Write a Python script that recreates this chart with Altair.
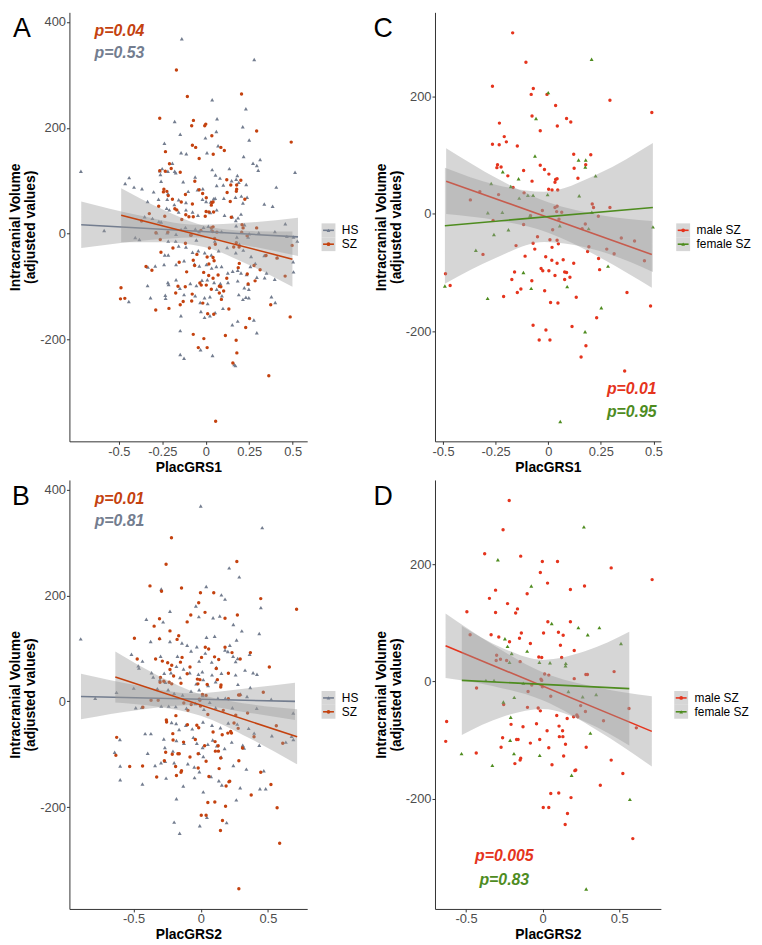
import altair as alt
import pandas as pd

FONT = "Liberation Sans"
H = 433
W_L = 240
W_R = 228

HS_COLOR = "#737D8F"
SZ_COLOR = "#C4420F"
MALE_COLOR = "#E5341D"
FEMALE_COLOR = "#4E8C1F"
BAND_COLOR = "#999999"
KEY_FILL = "#D6D6D6"
YTITLE = ["Intracranial Volume", "(adjusted values)"]

# ---------------- points ----------------
# SZ patients: (PlacGRS1, ICV) split by sex  (panel C; together = SZ in panel A)
C_MALE = [(-0.169,309),(-0.106,259),(-0.265,218),(-0.071,214),(-0.081,204),(-0.006,204),(0.293,194),(0.035,185),(0.492,173),(-0.077,167),(0.087,163),(0.107,157),(-0.232,155),(0.043,150),(-0.038,142),(-0.209,132),(-0.199,123),(-0.265,119),(-0.233,118),(-0.147,116),(0.121,102),(0.202,101),(-0.241,84),(-0.244,79),(-0.038,83),(-0.224,80),(0.178,84),(-0.018,76),(0.123,78),(-0.117,74),(0.003,68),(-0.192,65),(0.141,61),(0.035,59),(0.032,54),(0.042,60),(-0.077,56),(-0.167,45),(0.002,42),(0.018,41),(0.045,41),(-0.115,36),(-0.236,33),(-0.325,38),(-0.370,24),(0.042,13),(0.032,11),(0.293,11),(0.209,17),(0.215,11),(0.064,3),(-0.028,6),(0.040,4),(0.238,-4),(-0.084,-3),(-0.262,-11),(0.051,-9),(-0.117,-18),(0.176,-17),(0.161,-25),(0.021,-27),(-0.051,-39),(0.347,-41),(0.008,-44),(0.042,-45),(0.410,-46),(-0.072,-50),(0.048,-51),(-0.153,-54),(0.193,-56),(-0.064,-60),(0.018,-57),(0.278,-60),(0.187,-64),(-0.310,-69),(0.313,-68),(-0.110,-72),(-0.012,-73),(0.071,-78),(0.017,-79),(0.239,-76),(0.042,-84),(0.457,-80),(0.121,-84),(-0.034,-93),(-0.026,-97),(0.003,-97),(0.244,-95),(-0.160,-99),(0.078,-99),(0.087,-100),(0.032,-105),(0.103,-108),(-0.488,-102),(-0.173,-112),(-0.078,-114),(0.078,-112),(-0.466,-122),(-0.130,-128),(-0.017,-131),(-0.147,-134),(0.374,-134),(-0.212,-141),(0.133,-142),(0.011,-151),(0.046,-152),(0.486,-157),(0.230,-177),(-0.072,-190),(0.113,-192),(-0.011,-198),(-0.043,-215),(0.008,-215),(0.179,-225),(0.156,-244),(0.363,-268)]
C_FEMALE = [(0.206,264),(0.0,207),(-0.058,163),(-0.063,99),(0.144,92),(0.178,92),(0.176,80),(0.225,65),(-0.216,72),(-0.271,52),(-0.141,60),(-0.178,47),(-0.097,32),(-0.072,32),(-0.003,33),(0.147,31),(-0.138,27),(-0.287,2),(-0.218,3),(-0.087,-3),(0.207,3),(0.055,-20),(0.192,-25),(-0.189,-27),(-0.258,-35),(-0.344,-62),(0.284,-89),(0.497,-22),(-0.118,-100),(-0.491,-123),(-0.081,-127),(0.090,-124),(-0.288,-144),(0.252,-160),(0.175,-201),(0.057,-354)]
# SZ patients: (PlacGRS2, ICV) split by sex  (panel D; together = SZ in panel B)
D_MALE = [(-0.218,309),(-0.258,259),(-0.378,218),(-0.143,214),(-0.002,205),(0.097,205),(-0.015,186),(0.447,194),(0.714,174),(0.273,163),(0.032,168),(0.181,157),(-0.307,156),(-0.101,150),(-0.347,142),(-0.229,133),(-0.164,124),(-0.176,117),(-0.307,118),(-0.494,119),(0.034,102),(0.181,102),(-0.139,83),(0.006,83),(0.103,84),(-0.336,80),(-0.473,80),(0.134,79),(-0.286,76),(-0.151,74),(-0.216,68),(-0.080,65),(0.116,62),(0.206,53),(-0.025,42),(-0.006,41),(-0.300,45),(0.124,41),(-0.303,36),(-0.275,38),(-0.235,36),(-0.147,34),(0.466,17),(0.013,13),(0.040,11),(0.282,12),(0.292,12),(0.206,5),(-0.011,4),(-0.006,2),(-0.071,-6),(-0.431,-11),(-0.002,-9),(-0.095,-17),(0.053,-25),(-0.254,-39),(-0.099,-44),(-0.029,-45),(-0.015,-50),(0.248,-41),(0.563,-46),(0.279,-51),(0.223,-57),(0.229,-60),(0.202,-60),(0.092,-58),(0.160,-63),(0.397,-67),(-0.626,-68),(-0.206,-73),(-0.040,-72),(-0.128,-77),(0.107,-76),(0.611,-79),(0.130,-84),(0.029,-84),(0.109,-94),(0.132,-94),(-0.261,-96),(-0.160,-99),(-0.170,-99),(-0.019,-99),(-0.632,-102),(-0.080,-105),(0.149,-107),(-0.271,-112),(0.284,-112),(0.040,-113),(-0.433,-122),(0.137,-127),(-0.143,-131),(-0.147,-134),(0.447,-134),(-0.181,-140),(0.061,-142),(0.216,-151),(0.210,-152),(0.523,-157),(0.376,-177),(0.105,-190),(0.053,-191),(0.185,-198),(0.004,-215),(0.040,-215),(0.162,-225),(0.147,-244),(0.588,-268)]
D_FEMALE = [(0.269,264),(-0.292,208),(-0.074,163),(0.059,99),(0.233,92),(0.370,92),(0.294,80),(0.511,65),(-0.246,73),(-0.229,60),(-0.101,52),(-0.202,48),(-0.021,33),(0.048,32),(0.151,31),(0.149,27),(-0.216,33),(-0.370,2),(-0.317,2),(-0.126,-3),(0.168,-17),(0.261,-26),(0.349,-22),(-0.185,-27),(-0.256,-35),(-0.208,-61),(0.311,-88),(-0.212,-100),(-0.529,-123),(-0.019,-126),(-0.187,-123),(-0.328,-143),(0.189,-160),(0.569,-201),(0.284,-354)]
# healthy subjects (HS)
A_HS = [(-0.138,368),(0.279,329),(0.037,253),(0.231,236),(0.065,217),(-0.179,212),(0.213,202),(-0.147,188),(-0.002,181),(0.061,193),(0.250,177),(-0.238,171),(-0.112,151),(-0.142,153),(0.007,153),(0.071,166),(0.218,146),(0.313,140),(0.272,133),(0.294,129),(-0.719,118),(0.037,121),(0.136,123),(0.182,110),(0.514,116),(-0.192,133),(-0.251,123),(-0.218,118),(-0.179,118),(-0.173,115),(-0.264,119),(0.302,120),(-0.261,112),(0.056,111),(-0.061,107),(-0.441,106),(-0.464,95),(-0.413,88),(-0.367,85),(-0.257,99),(-0.130,98),(0.082,105),(0.101,92),(0.149,100),(0.175,103),(0.190,97),(0.233,93),(0.406,88),(-0.017,85),(0.063,91),(-0.300,79),(-0.272,65),(-0.218,76),(-0.101,80),(-0.047,83),(0.045,66),(0.054,67),(0.028,60),(0.171,69),(0.205,71),(0.238,69),(0.214,58),(0.337,56),(0.385,52),(-0.335,61),(-0.222,65),(-0.181,55),(-0.156,64),(-0.114,59),(0.002,61),(-0.019,65),(-0.225,48),(0.104,67),(-0.352,32),(-0.307,29),(-0.270,23),(-0.210,45),(-0.156,41),(-0.114,45),(-0.076,41),(-0.045,35),(0.026,40),(0.063,45),(0.108,35),(0.153,32),(0.186,30),(0.203,37),(0.173,25),(0.458,19),(-0.257,22),(-0.585,6),(-0.406,-7),(-0.382,-11),(-0.283,2),(-0.222,2),(-0.171,-1),(-0.142,8),(-0.117,12),(-0.060,9),(-0.039,4),(-0.013,12),(0.015,14),(0.034,8),(0.091,4),(0.175,15),(0.223,17),(0.250,0),(0.305,2),(0.398,4),(0.527,-14),(0.505,-6),(0.467,-5),(0.244,-6),(0.179,-6),(0.052,-14),(-0.054,-12),(-0.216,-14),(-0.173,-14),(-0.236,-40),(-0.216,-40),(-0.156,-23),(-0.114,-25),(-0.076,-35),(-0.043,-32),(-0.006,-36),(0.032,-40),(0.074,-32),(0.123,-26),(0.173,-36),(0.194,-20),(0.216,-31),(0.261,-43),(0.285,-56),(0.337,-41),(0.412,-45),(0.503,-53),(-0.291,-61),(-0.240,-58),(-0.171,-58),(-0.125,-51),(-0.065,-57),(-0.037,-61),(0.004,-58),(0.034,-65),(0.061,-62),(0.091,-62),(0.127,-74),(0.155,-71),(0.184,-69),(0.203,-74),(0.235,-77),(0.257,-62),(-0.333,-63),(0.339,-83),(0.350,-74),(0.505,-72),(-0.335,-98),(-0.318,-121),(-0.218,-92),(-0.214,-96),(-0.171,-87),(-0.149,-103),(-0.089,-94),(-0.054,-98),(-0.022,-88),(0.009,-87),(0.048,-92),(0.063,-105),(0.084,-94),(0.128,-92),(0.184,-89),(0.222,-102),(0.244,-95),(0.248,-105),(0.294,-82),(0.397,-86),(0.378,-119),(0.400,-130),(0.231,-120),(0.214,-124),(0.248,-121),(-0.233,-116),(-0.231,-122),(-0.125,-115),(-0.061,-117),(-0.032,-130),(-0.007,-121),(0.011,-132),(0.024,-119),(0.093,-117),(0.190,-115),(-0.443,-128),(-0.143,-155),(-0.028,-147),(-0.007,-158),(0.024,-155),(0.054,-149),(0.099,-141),(0.153,-172),(0.184,-165),(0.277,-163),(0.294,-187),(-0.147,-183),(-0.030,-219),(0.039,-230),(-0.147,-228),(-0.125,-235),(0.171,-249),(0.164,-247)]
B_HS = [(0.0,369),(0.458,328),(0.212,252),(0.287,235),(0.041,217),(-0.294,212),(0.154,201),(-0.036,180),(0.181,193),(0.448,177),(-0.229,170),(-0.405,155),(-0.280,150),(-0.014,160),(0.092,158),(0.142,161),(0.243,145),(0.306,133),(0.436,128),(-0.894,118),(-0.373,113),(-0.306,119),(-0.229,113),(-0.140,110),(-0.101,106),(0.043,121),(0.104,123),(0.217,106),(0.267,116),(-0.516,89),(-0.434,76),(-0.465,67),(-0.460,63),(-0.299,85),(-0.173,85),(-0.072,95),(-0.029,103),(-0.012,76),(0.034,91),(0.082,74),(0.116,64),(0.181,97),(0.202,94),(0.241,85),(0.260,75),(0.275,81),(0.364,89),(-0.366,54),(-0.272,53),(-0.222,54),(-0.181,66),(-0.128,61),(-0.082,54),(-0.017,51),(0.012,56),(0.084,50),(0.154,53),(0.260,50),(0.330,59),(0.390,54),(0.419,51),(-0.354,46),(-0.263,36),(-0.304,41),(-0.154,45),(-0.034,33),(0.019,41),(0.055,30),(0.111,37),(0.277,32),(0.369,26),(-0.627,17),(-0.499,25),(-0.323,24),(-0.243,22),(-0.198,15),(-0.135,12),(-0.072,19),(-0.012,22),(0.014,11),(0.128,6),(0.183,6),(0.296,14),(0.345,9),(0.525,4),(-0.786,6),(-0.484,-12),(-0.439,-11),(-0.294,-9),(-0.239,-9),(-0.186,-10),(-0.106,-13),(-0.039,-4),(0.024,-15),(0.067,-2),(0.111,-12),(0.236,-12),(0.417,-13),(0.689,-22),(-0.602,-72),(-0.414,-61),(-0.371,-61),(-0.217,-40),(-0.183,-42),(-0.161,-53),(-0.111,-45),(-0.063,-52),(0.017,-39),(0.084,-45),(0.147,-50),(0.205,-41),(0.272,-43),(0.357,-51),(0.398,-60),(0.530,-65),(0.634,-77),(0.677,-66),(0.690,-72),(-0.641,-96),(-0.600,-122),(-0.395,-98),(-0.275,-71),(-0.267,-87),(-0.207,-94),(-0.181,-74),(-0.125,-79),(-0.055,-68),(-0.029,-79),(0.014,-87),(0.053,-81),(0.089,-73),(0.120,-84),(0.178,-89),(0.231,-77),(0.313,-83),(0.323,-88),(0.436,-83),(0.470,-131),(0.340,-128),(0.243,-121),(0.152,-105),(0.019,-104),(-0.012,-98),(-0.048,-124),(-0.096,-118),(-0.198,-116),(-0.296,-116),(-0.340,-121),(-0.265,-113),(-0.600,-148),(-0.434,-156),(-0.258,-145),(-0.130,-160),(-0.046,-144),(-0.010,-133),(0.077,-142),(0.135,-150),(0.157,-158),(0.294,-163),(0.441,-165),(0.484,-165),(-0.181,-184),(0.019,-171),(0.265,-186),(-0.198,-228),(-0.157,-249),(-0.007,-235),(0.046,-219),(0.193,-229)]

# ---------------- fitted lines and 95% bands ----------------
A_HS_LINE_X = [-0.717, 0.531]; A_HS_LINE_Y = [17, -6]
A_HS_BAND_X = [-0.717, -0.4, -0.05, 0.25, 0.531]
A_HS_BAND_LO = [-27, -14, -7, -23, -42]
A_HS_BAND_HI = [61, 36, 17, 21, 30]

A_SZ_LINE_X = [-0.487, 0.499]; A_SZ_LINE_Y = [35, -48]
A_SZ_BAND_X = [-0.487, -0.25, -0.01, 0.25, 0.499]
A_SZ_BAND_LO = [-16, -16, -25, -59, -100]
A_SZ_BAND_HI = [86, 46, 15, 5, 4]

B_HS_LINE_X = [-0.892, 0.702]; B_HS_LINE_Y = [9, 0]
B_HS_BAND_X = [-0.892, -0.45, -0.06, 0.32, 0.702]
B_HS_BAND_LO = [-34, -16, -7, -20, -35]
B_HS_BAND_HI = [52, 29, 15, 24, 35]

B_SZ_LINE_X = [-0.636, 0.718]; B_SZ_LINE_Y = [46, -67]
B_SZ_BAND_X = [-0.636, -0.32, 0.0, 0.36, 0.718]
B_SZ_BAND_LO = [-2, -10, -27, -69, -119]
B_SZ_BAND_HI = [94, 49, 13, -5, -15]

C_M_LINE_X = [-0.485, 0.492]; C_M_LINE_Y = [56, -69]
C_M_BAND_X = [-0.485, -0.24, 0.0, 0.25, 0.492]
C_M_BAND_LO = [0, -11, -32, -75, -126]
C_M_BAND_HI = [112, 60, 20, -2, -12]

C_F_LINE_X = [-0.491, 0.497]; C_F_LINE_Y = [-20, 11]
C_F_BAND_X = [-0.491, -0.25, -0.02, 0.24, 0.497]
C_F_BAND_LO = [-119, -75, -48, -63, -99]
C_F_BAND_HI = [79, 50, 38, 69, 121]

D_M_LINE_X = [-0.633, 0.712]; D_M_LINE_Y = [61, -85]
D_M_BAND_X = [-0.633, -0.32, 0.0, 0.36, 0.712]
D_M_BAND_LO = [6, -8, -32, -84, -145]
D_M_BAND_HI = [116, 62, 16, -10, -25]

D_F_LINE_X = [-0.527, 0.565]; D_F_LINE_Y = [2, -12]
D_F_BAND_X = [-0.527, -0.26, 0.0, 0.28, 0.565]
D_F_BAND_LO = [-91, -60, -47, -69, -109]
D_F_BAND_HI = [95, 57, 37, 52, 85]

# ---------------- annotations ----------------
A_P_LABELS = ["p=0.04", "p=0.53"]; A_P_X = [-0.64, -0.64]; A_P_Y = [383, 342]
B_P_LABELS = ["p=0.01", "p=0.81"]; B_P_X = [-0.79, -0.79]; B_P_Y = [382, 341]
C_P_LABELS = ["p=0.01", "p=0.95"]; C_P_X = [0.515, 0.515]; C_P_Y = [-298, -338]
D_P_LABELS = ["p=0.005", "p=0.83"]; D_P_X = [-0.25, -0.25]; D_P_Y = [-298, -338]

TICKS_X1 = [-0.5, -0.25, 0, 0.25, 0.5]
TICKS_X2 = [-0.5, 0, 0.5]
TICKS_Y_AB = [-200, 0, 200, 400]
TICKS_Y_CD = [-200, 0, 200]


def pts(pairs):
    return pd.DataFrame(pairs, columns=["x", "y"])


def line_df(xs, ys):
    return pd.DataFrame({"x": xs, "y": ys})


def band_df(xs, lo, hi):
    return pd.DataFrame({"x": xs, "lo": lo, "hi": hi})


def panel(groups, plabels, px, py, pcolors, palign, letter, letter_x,
          xdom, ydom, xticks, yticks, xtitle, width):
    xs = alt.Scale(domain=xdom, nice=False, zero=False)
    ys = alt.Scale(domain=ydom, nice=False, zero=False)
    xax = alt.Axis(values=xticks, labelExpr="datum.value + ''", title=xtitle)
    yax = alt.Axis(values=yticks, labelExpr="datum.value + ''", title=YTITLE)

    def X(f="x"):
        return alt.X(f + ":Q", scale=xs, axis=xax)

    def Y(f="y"):
        return alt.Y(f + ":Q", scale=ys, axis=yax)

    layers = []
    for g in groups:
        layers.append(
            alt.Chart(g["points"]).mark_point(
                filled=True, shape=g["shape"], size=g["size"], color=g["color"], opacity=1
            ).encode(x=X(), y=Y())
        )
    for g in groups:
        layers.append(
            alt.Chart(g["band"]).mark_area(
                color=BAND_COLOR, opacity=0.4, interpolate="monotone"
            ).encode(x=X(), y=Y("lo"), y2=alt.Y2("hi:Q"))
        )
        layers.append(
            alt.Chart(g["line"]).mark_line(color=g["color"], strokeWidth=1.6).encode(x=X(), y=Y())
        )
    for lab, xv, yv, col in zip(plabels, px, py, pcolors):
        d = pd.DataFrame({"x": [xv], "y": [yv], "label": [lab]})
        layers.append(
            alt.Chart(d).mark_text(
                font=FONT, fontSize=16, fontWeight="bold", fontStyle="italic",
                align=palign, baseline="middle", color=col
            ).encode(x=X(), y=Y(), text="label:N")
        )
    layers.append(
        alt.Chart(pd.DataFrame({"t": [letter]})).mark_text(
            font=FONT, fontSize=27, align="left", baseline="alphabetic", color="black"
        ).encode(x=alt.value(letter_x), y=alt.value(25), text="t:N")
    )
    return alt.layer(*layers).properties(width=width, height=H)


def legend(entries, width):
    cats = [e[0] for e in entries]
    ysc = alt.Scale(type="point", domain=cats, range=[220, 234], padding=0)
    yenc = alt.Y("cat:N", scale=ysc, axis=None)
    df = pd.DataFrame({"cat": cats})
    layers = [
        alt.Chart(df).mark_square(size=196, color=KEY_FILL, opacity=1).encode(
            x=alt.value(6.5), y=yenc)
    ]
    for lab, col, shp in entries:
        d = pd.DataFrame({"cat": [lab]})
        layers.append(alt.Chart(d).mark_rule(color=col, strokeWidth=1.6).encode(
            x=alt.value(1), x2=alt.value(12), y=yenc))
        layers.append(alt.Chart(d).mark_point(filled=True, shape=shp, size=14, color=col, opacity=1).encode(
            x=alt.value(6.5), y=yenc))
    layers.append(alt.Chart(df).mark_text(
        font=FONT, fontSize=12, align="left", baseline="middle", color="black"
    ).encode(x=alt.value(20), y=yenc, text="cat:N"))
    return alt.layer(*layers).properties(width=width, height=H)


def grp(points, shape, size, color, bx, blo, bhi, lx, ly):
    return {"points": pts(points), "shape": shape, "size": size, "color": color,
            "band": band_df(bx, blo, bhi), "line": line_df(lx, ly)}


YDOM_AB = [-392, 418]
YDOM_CD = [-388, 344]
TRI = 16
DOT = 12

pA = panel(
    [grp(A_HS, "triangle-up", TRI, HS_COLOR, A_HS_BAND_X, A_HS_BAND_LO, A_HS_BAND_HI, A_HS_LINE_X, A_HS_LINE_Y),
     grp(C_MALE + C_FEMALE, "circle", DOT, SZ_COLOR, A_SZ_BAND_X, A_SZ_BAND_LO, A_SZ_BAND_HI, A_SZ_LINE_X, A_SZ_LINE_Y)],
    A_P_LABELS, A_P_X, A_P_Y, [SZ_COLOR, HS_COLOR], "left", "A", -57,
    [-0.785, 0.584], YDOM_AB, TICKS_X1, TICKS_Y_AB, "PlacGRS1", W_L)

pB = panel(
    [grp(B_HS, "triangle-up", TRI, HS_COLOR, B_HS_BAND_X, B_HS_BAND_LO, B_HS_BAND_HI, B_HS_LINE_X, B_HS_LINE_Y),
     grp(D_MALE + D_FEMALE, "circle", DOT, SZ_COLOR, B_SZ_BAND_X, B_SZ_BAND_LO, B_SZ_BAND_HI, B_SZ_LINE_X, B_SZ_LINE_Y)],
    B_P_LABELS, B_P_X, B_P_Y, [SZ_COLOR, HS_COLOR], "left", "B", -58,
    [-0.978, 0.793], YDOM_AB, TICKS_X2, TICKS_Y_AB, "PlacGRS2", W_L)

pC = panel(
    [grp(C_MALE, "circle", DOT, MALE_COLOR, C_M_BAND_X, C_M_BAND_LO, C_M_BAND_HI, C_M_LINE_X, C_M_LINE_Y),
     grp(C_FEMALE, "triangle-up", TRI, FEMALE_COLOR, C_F_BAND_X, C_F_BAND_LO, C_F_BAND_HI, C_F_LINE_X, C_F_LINE_Y)],
    C_P_LABELS, C_P_X, C_P_Y, [MALE_COLOR, FEMALE_COLOR], "right", "C", -62,
    [-0.538, 0.535], YDOM_CD, TICKS_X1, TICKS_Y_CD, "PlacGRS1", W_R)

pD = panel(
    [grp(D_MALE, "circle", DOT, MALE_COLOR, D_M_BAND_X, D_M_BAND_LO, D_M_BAND_HI, D_M_LINE_X, D_M_LINE_Y),
     grp(D_FEMALE, "triangle-up", TRI, FEMALE_COLOR, D_F_BAND_X, D_F_BAND_LO, D_F_BAND_HI, D_F_LINE_X, D_F_LINE_Y)],
    D_P_LABELS, D_P_X, D_P_Y, [MALE_COLOR, FEMALE_COLOR], "center", "D", -62,
    [-0.702, 0.771], YDOM_CD, TICKS_X2, TICKS_Y_CD, "PlacGRS2", W_R)

legAB = [("HS", HS_COLOR, "triangle-up"), ("SZ", SZ_COLOR, "circle")]
legCD = [("male SZ", MALE_COLOR, "circle"), ("female SZ", FEMALE_COLOR, "triangle-up")]

row1 = alt.hconcat(
    alt.hconcat(pA, legend(legAB, 40), spacing=14),
    alt.hconcat(pC, legend(legCD, 78), spacing=13),
    spacing=12,
)
row2 = alt.hconcat(
    alt.hconcat(pB, legend(legAB, 40), spacing=14),
    alt.hconcat(pD, legend(legCD, 78), spacing=13),
    spacing=12,
)

chart = alt.vconcat(row1, row2, spacing=6, padding=0, background="white").configure_view(
    stroke=None
).configure_axis(
    labelFont=FONT, titleFont=FONT, labelFontSize=13, titleFontSize=14,
    labelColor="#4D4D4D", titleColor="black", titleFontWeight="bold",
    domainColor="#333333", tickColor="#333333", tickSize=3, domainWidth=1, tickWidth=1,
    grid=False, labelPadding=1, titlePadding=2, labelFlush=False, labelOverlap=False,
).configure_axisY(
    titleLineHeight=15
).configure_text(font=FONT)

chart.save("out.html", embed_options={"renderer": "svg", "actions": False})
